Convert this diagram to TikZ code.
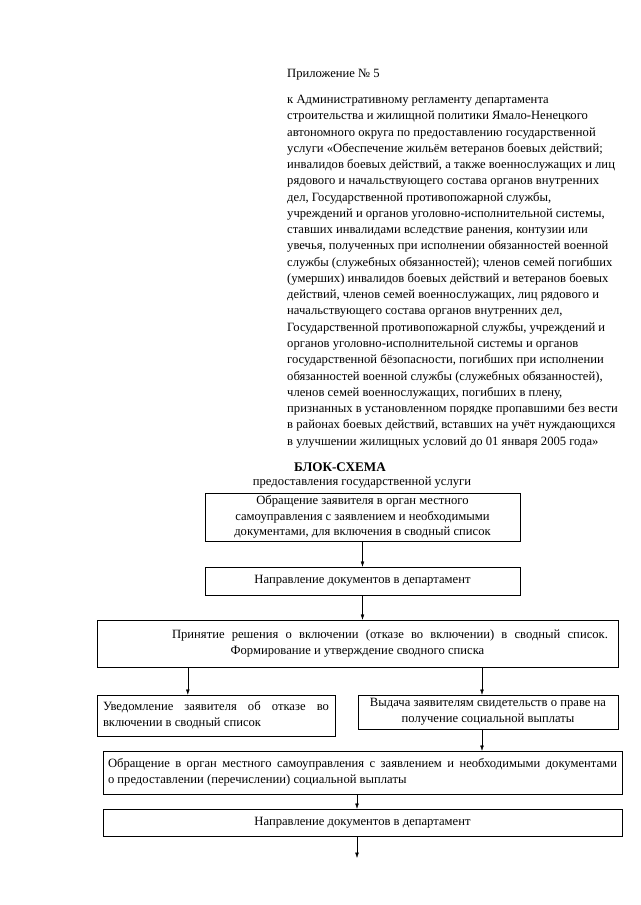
\documentclass[tikz,border=0pt]{standalone}
\usepackage{fontspec}
\setmainfont{Liberation Serif}
\usetikzlibrary{arrows.meta}
\newlength\pxu
\setlength\pxu{0.95pt}
\begin{document}
\begin{tikzpicture}[x=0.95pt,y=-0.95pt,
    every node/.style={inner sep=0pt,font=\fontsize{12}{15}\selectfont},
    blok/.style={draw,thin,align=center},
    strelka/.style={-{Latex[length=5pt,width=3.5pt]},thin}]
    \useasboundingbox (0,0) rectangle (640,905);
    % шапка
    \node[anchor=base west] (prilozh) at (287,77) {Приложение №~5};
    \node[anchor=north west,align=left,font=\fontsize{12}{15.45}\selectfont] (regl) at (287,95) {к Административному регламенту департамента\\
      строительства и жилищной политики Ямало-Ненецкого\\
      автономного округа по предоставлению государственной\\
      услуги «Обеспечение жильём ветеранов боевых действий;\\
      инвалидов боевых действий, а также военнослужащих и лиц\\
      рядового и начальствующего состава органов внутренних\\
      дел, Государственной противопожарной службы,\\
      учреждений и органов уголовно-исполнительной системы,\\
      ставших инвалидами вследствие ранения, контузии или\\
      увечья, полученных при исполнении обязанностей военной\\
      службы (служебных обязанностей); членов семей погибших\\
      (умерших) инвалидов боевых действий и ветеранов боевых\\
      действий, членов семей военнослужащих, лиц рядового и\\
      начальствующего состава органов внутренних дел,\\
      Государственной противопожарной службы, учреждений и\\
      органов уголовно-исполнительной системы и органов\\
      государственной бёзопасности, погибших при исполнении\\
      обязанностей военной службы (служебных обязанностей),\\
      членов семей военнослужащих, погибших в плену,\\
      признанных в установленном порядке пропавшими без вести\\
      в районах боевых действий, вставших на учёт нуждающихся\\
      в улучшении жилищных условий до 01 января 2005 года»};
    % заголовок
    \node[font=\fontsize{12.5}{15}\bfseries] (blsh) at (340,467) {БЛОК-СХЕМА};
    \node (predost) at (362,483) {предоставления государственной услуги};
    % блоки
    \node[blok,minimum width=315\pxu,minimum height=48\pxu] (obr1) at (362.5,517) {Обращение заявителя в орган местного\\
      самоуправления с заявлением и необходимыми\\
      документами, для включения в сводный список};
    \node[blok,minimum width=315\pxu,minimum height=28\pxu] (napr1) at (362.5,581) {Направление документов в департамент};
    \node[blok,minimum width=521\pxu,minimum height=47\pxu] (resh) at (357.5,643.5) {\hspace*{65\pxu}\makebox[436\pxu][s]{Принятие решения о включении (отказе во включении) в сводный список.}\\
      Формирование и утверждение сводного списка};
    \node[blok,align=justify,text width=226\pxu,inner xsep=6\pxu,minimum height=41\pxu] (otkaz) at (216,715.5) {\makebox[226\pxu][s]{Уведомление заявителя об отказе во}\\
      включении в сводный список};
    \node[blok,minimum width=260\pxu,minimum height=34\pxu] (vydacha) at (488,712) {Выдача заявителям свидетельств о праве на\\
      получение социальной выплаты};
    \node[blok,align=justify,text width=509\pxu,inner xsep=5\pxu,minimum height=43\pxu] (obr2) at (362.5,772.5) {\makebox[509\pxu][s]{Обращение в орган местного самоуправления с заявлением и необходимыми документами}\\
      о предоставлении (перечислении) социальной выплаты};
    \node[blok,minimum width=519\pxu,minimum height=27\pxu] (napr2) at (362.5,822.5) {Направление документов в департамент};
    \coordinate (konec) at (357,858);
    % стрелки
    \draw[strelka] (obr1) -- (napr1);
    \draw[strelka] (napr1) -- (resh.north -| napr1);
    \draw[strelka] ([xshift=91\pxu]resh.south west) -- ([xshift=91\pxu]resh.south west |- otkaz.north);
    \draw[strelka] ([xshift=-6\pxu]vydacha.north |- resh.south) -- ([xshift=-6\pxu]vydacha.north);
    \draw[strelka] ([xshift=-6\pxu]vydacha.south) -- ([xshift=-6\pxu]vydacha.south |- obr2.north);
    \draw[strelka] (obr2.south -| konec) -- (napr2.north -| konec);
    \draw[strelka] (napr2.south -| konec) -- (konec);
\end{tikzpicture}
\end{document}
